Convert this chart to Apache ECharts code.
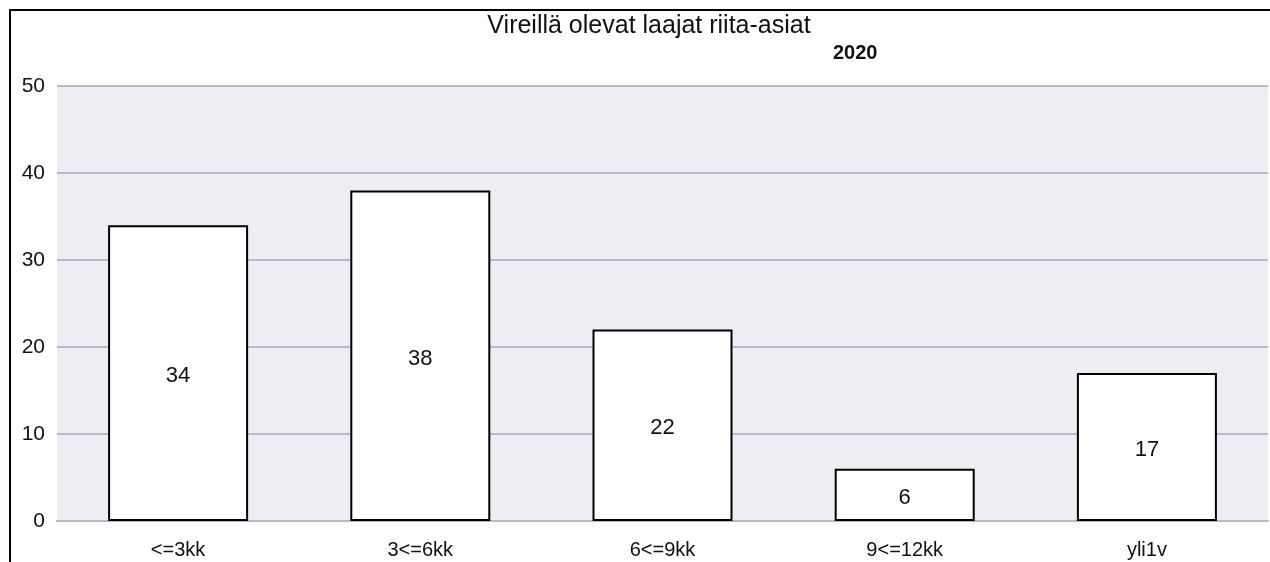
<!DOCTYPE html>
<html>
<head>
<meta charset="utf-8">
<script src="https://cdn.jsdelivr.net/npm/echarts@6/dist/echarts.min.js"></script>
<style>
  html, body { margin: 0; padding: 0; background: #fff; overflow: hidden; }
  #frame {
    position: absolute; left: 9px; top: 9px;
    width: 1400px; height: 700px;
    border-top: 2px solid #000; border-left: 2px solid #000;
  }
  #chart { position: absolute; left: 0; top: 0; width: 1270px; height: 562px; }
</style>
</head>
<body>
<div id="frame"></div>
<div id="chart"></div>
<script>
const categories = ['<=3kk', '3<=6kk', '6<=9kk', '9<=12kk', 'yli1v'];
const values = [34, 38, 22, 6, 17];
const yTicks = [0, 10, 20, 30, 40, 50];

const chart = echarts.init(document.getElementById('chart'));

const option = {
  animation: false,
  textStyle: { fontFamily: 'Liberation Sans, Arial, sans-serif' },
  title: [
    {
      text: 'Vireillä olevat laajat riita-asiat',
      left: 644, top: 9, textAlign: 'center',
      textStyle: { fontSize: 25, fontWeight: 'normal', color: '#111' }
    },
    {
      text: '2020',
      left: 828, top: 38,
      textStyle: { fontSize: 20, fontWeight: 'bold', color: '#111' }
    }
  ],
  grid: {
    left: 57, right: 2, top: 86, bottom: 41,
    show: true, backgroundColor: '#eeedf3', borderWidth: 0
  },
  xAxis: {
    type: 'category',
    data: categories,
    axisLine: { show: true, lineStyle: { color: '#b9b8d0', width: 2 } },
    axisTick: { show: false },
    axisLabel: { fontSize: 20, color: '#111', margin: 19 }
  },
  yAxis: {
    type: 'value',
    min: yTicks[0], max: yTicks[yTicks.length - 1], interval: 10,
    axisLine: { show: false },
    axisTick: { show: false },
    axisLabel: { fontSize: 21, color: '#111', margin: 12 },
    splitLine: { lineStyle: { color: '#b9b8d0', width: 2 } }
  },
  series: [
    {
      type: 'bar',
      data: values,
      barWidth: 140,
      itemStyle: { color: '#fff', borderColor: '#000', borderWidth: 2 },
      label: {
        show: true, position: 'inside', offset: [0, 3],
        fontSize: 22, color: '#111'
      }
    }
  ]
};

chart.setOption(option);
window.addEventListener('resize', () => chart.resize());
</script>
</body>
</html>
